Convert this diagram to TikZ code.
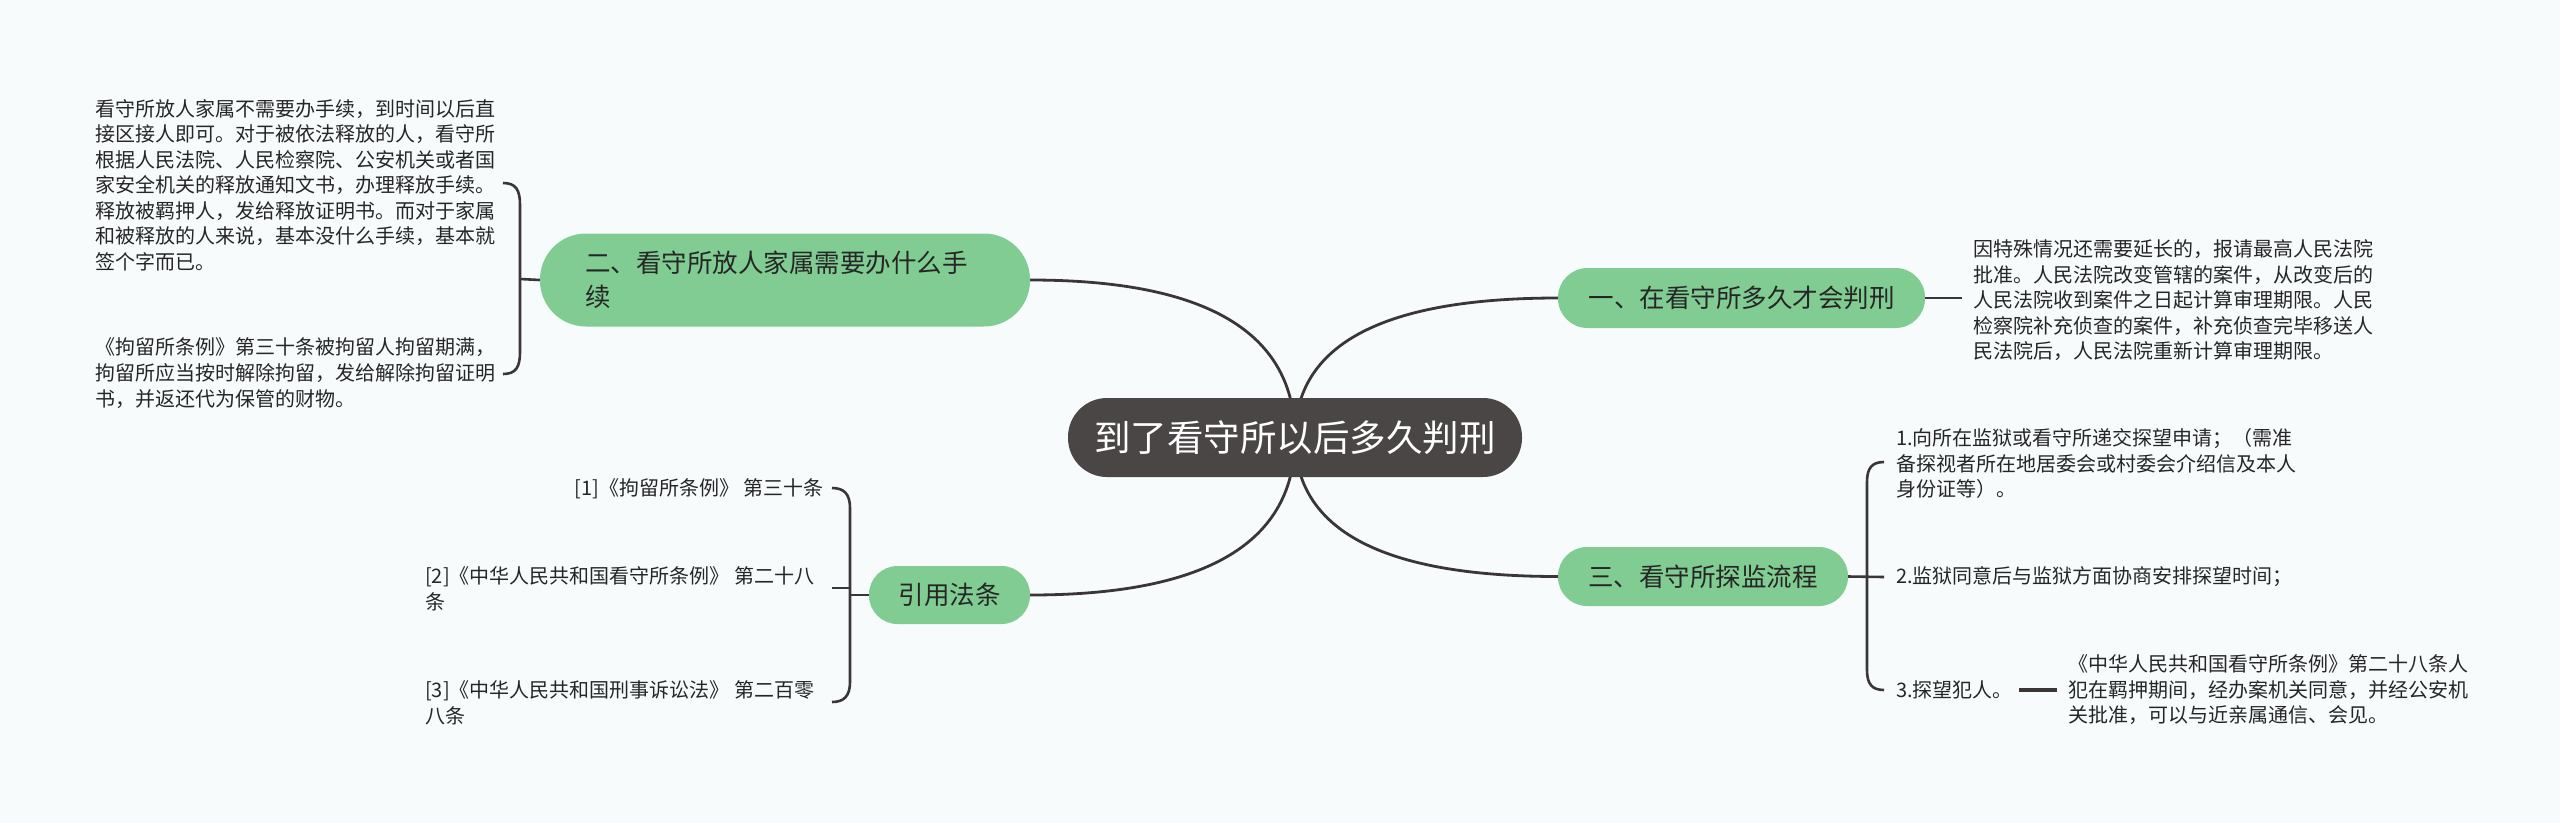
\documentclass[tikz,border=0pt]{standalone}
\usepackage{fontspec}
\newfontfamily\cjk{Noto Sans CJK SC}
\usetikzlibrary{calc}
\pgfdeclarelayer{back}
\pgfdeclarelayer{links}
\pgfsetlayers{back,links,main}
\definecolor{bgc}{RGB}{247,251,252}
\definecolor{greenc}{RGB}{128,204,146}
\definecolor{darkc}{RGB}{74,70,70}
\definecolor{linec}{RGB}{58,54,54}
\definecolor{txtc}{RGB}{38,38,38}
\begin{document}
\begin{tikzpicture}[x=1pt,y=-1pt,
  rootnode/.style={fill=darkc, draw=none, inner sep=0pt, minimum width=454pt, minimum height=79pt, rounded corners=39pt, text=white, font=\cjk\fontsize{36.5}{44}\selectfont},
  topic/.style={fill=greenc, draw=none, inner sep=0pt, text=txtc, font=\cjk\fontsize{25.5}{34}\selectfont},
  detail/.style={inner sep=0pt, align=left, text=txtc, font=\cjk\fontsize{20}{25.5}\selectfont},
  mainlink/.style={draw=linec, line width=2.8pt},
  bracket/.style={draw=linec, line width=2.6pt},
  shortlink/.style={draw=linec, line width=3.4pt}
]
\useasboundingbox (0,0) rectangle (2560,823);
\begin{pgfonlayer}{back}
\fill[bgc] (0,0) rectangle (2560,823);
\end{pgfonlayer}

% main nodes
\node[rootnode] (root) at (1295,437.5) {到了看守所以后多久判刑};
\node[topic, minimum width=490pt, minimum height=93pt, rounded corners=46pt, align=left, text width=400pt] (t2) at (785,280) {二、看守所放人家属需要办什么手\\续};
\node[topic, minimum width=367pt, minimum height=60pt, rounded corners=29.5pt] (t1) at (1741.5,298) {一、在看守所多久才会判刑};
\node[topic, minimum width=290pt, minimum height=59pt, rounded corners=29pt] (t3) at (1703,576.5) {三、看守所探监流程};
\node[topic, minimum width=161pt, minimum height=58pt, rounded corners=28.5pt] (t4) at (949.5,595) {引用法条};

% detail texts
\node[detail, anchor=west] (a1) at (95,185) {看守所放人家属不需要办手续，到时间以后直\\接区接人即可。对于被依法释放的人，看守所\\根据人民法院、人民检察院、公安机关或者国\\家安全机关的释放通知文书，办理释放手续。\\释放被羁押人，发给释放证明书。而对于家属\\和被释放的人来说，基本没什么手续，基本就\\签个字而已。};
\node[detail, anchor=west, font=\cjk\fontsize{20}{26}\selectfont] (a2) at (95,373.5) {《拘留所条例》第三十条被拘留人拘留期满，\\拘留所应当按时解除拘留，发给解除拘留证明\\书，并返还代为保管的财物。};
\node[detail, anchor=west] (c1) at (1973,300.5) {因特殊情况还需要延长的，报请最高人民法院\\批准。人民法院改变管辖的案件，从改变后的\\人民法院收到案件之日起计算审理期限。人民\\检察院补充侦查的案件，补充侦查完毕移送人\\民法院后，人民法院重新计算审理期限。};
\node[detail, anchor=west] (d1) at (1896,463.5) {1.向所在监狱或看守所递交探望申请；（需准\\备探视者所在地居委会或村委会介绍信及本人\\身份证等）。};
\node[detail, anchor=west] (d2) at (1896,577) {2.监狱同意后与监狱方面协商安排探望时间；};
\node[detail, anchor=west] (d3) at (1896,690) {3.探望犯人。};
\node[detail, anchor=west] (e1) at (2068,690) {《中华人民共和国看守所条例》第二十八条人\\犯在羁押期间，经办案机关同意，并经公安机\\关批准，可以与近亲属通信、会见。};
\node[detail, anchor=east] (r1) at (824,489) {[1]《拘留所条例》 第三十条};
\node[detail, anchor=west] (r2) at (425,589) {[2]《中华人民共和国看守所条例》 第二十八\\条};
\node[detail, anchor=west] (r3) at (425,703) {[3]《中华人民共和国刑事诉讼法》 第二百零\\八条};

% bracket junction coordinates
\coordinate (j2) at (520,279);
\coordinate (a1e) at (503,183);
\coordinate (a2e) at (503,374);
\coordinate (j4) at (850,595);
\coordinate (j4m) at (850,588);
\coordinate (r1e) at (832,488);
\coordinate (r2e) at (832,588);
\coordinate (r3e) at (832,702);
\coordinate (j3) at (1867,577);
\coordinate (d1e) at (1884,462);
\coordinate (d2e) at (1884,577);
\coordinate (d3e) at (1884,690);

\begin{pgfonlayer}{links}
% main curves from the root
\draw[mainlink] (root.center) .. controls ($(root.center)!0.667!(root.center|-t2.east)$) and ($(t2.east)!0.667!(root.center|-t2.east)$) .. (t2.east);
\draw[mainlink] (root.center) .. controls ($(root.center)!0.667!(root.center|-t1.west)$) and ($(t1.west)!0.667!(root.center|-t1.west)$) .. (t1.west);
\draw[mainlink] (root.center) .. controls ($(root.center)!0.667!(root.center|-t3.west)$) and ($(t3.west)!0.667!(root.center|-t3.west)$) .. (t3.west);
\draw[mainlink] (root.center) .. controls ($(root.center)!0.667!(root.center|-t4.east)$) and ($(t4.east)!0.667!(root.center|-t4.east)$) .. (t4.east);
\end{pgfonlayer}

% bracket of node 二
\draw[bracket] (t2.west) -- (j2);
\draw[bracket] (j2) -- ($(j2|-a1e)+(0,22)$) .. controls ($(j2|-a1e)+(0,7)$) and ($(a1e)+(13,0)$) .. (a1e);
\draw[bracket] (j2) -- ($(j2|-a2e)+(0,-22)$) .. controls ($(j2|-a2e)+(0,-7)$) and ($(a2e)+(13,0)$) .. (a2e);

% bracket of node 引用法条
\draw[bracket] (t4.west) -- (j4);
\draw[bracket] (j4m) -- (r2e);
\draw[bracket] (j4) -- ($(j4|-r1e)+(0,20)$) .. controls ($(j4|-r1e)+(0,6)$) and ($(r1e)+(12,0)$) .. (r1e);
\draw[bracket] (j4) -- ($(j4|-r3e)+(0,-20)$) .. controls ($(j4|-r3e)+(0,-6)$) and ($(r3e)+(12,0)$) .. (r3e);

% bracket of node 三
\draw[bracket] (t3.east) -- (d2e);
\draw[bracket] (j3) -- ($(j3|-d1e)+(0,20)$) .. controls ($(j3|-d1e)+(0,6)$) and ($(d1e)+(-12,0)$) .. (d1e);
\draw[bracket] (j3) -- ($(j3|-d3e)+(0,-20)$) .. controls ($(j3|-d3e)+(0,-6)$) and ($(d3e)+(-12,0)$) .. (d3e);

% short links
\draw[bracket, shorten >=11pt] (t1.east) -- (t1.east -| c1.west);
\draw[shortlink, shorten <=6pt, shorten >=11pt] (d3.east) -- (e1.west);
\end{tikzpicture}
\end{document}
